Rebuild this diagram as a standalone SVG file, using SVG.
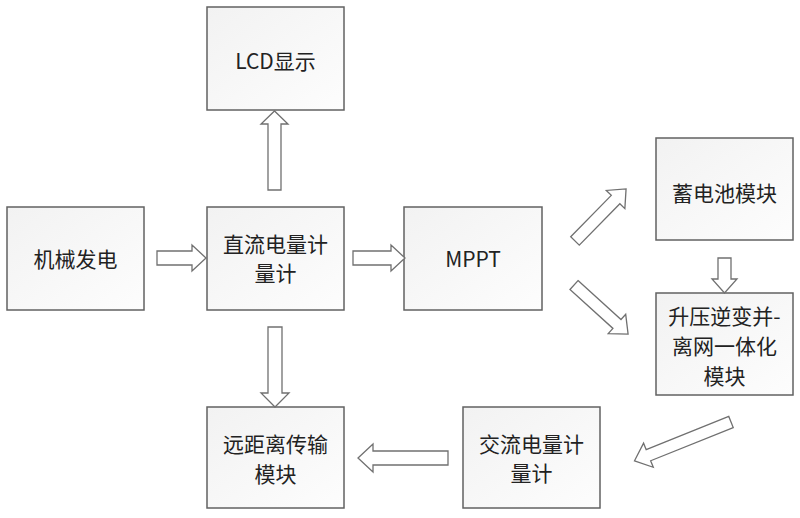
<svg xmlns="http://www.w3.org/2000/svg" width="800" height="518" viewBox="0 0 800 518">
<style>
.box{fill:url(#g);stroke:#626262;stroke-width:1.5}
.t{font-family:"Noto Sans CJK SC","Noto Sans",sans-serif;font-size:21px;fill:#222;text-anchor:middle;dominant-baseline:central}
.ar{fill:#fff;stroke:#707070;stroke-width:1.3;stroke-linejoin:miter}
</style>
<defs>
<linearGradient id="g" x1="0" y1="0" x2="1" y2="1">
<stop offset="0" stop-color="#f2f2f2"/>
<stop offset="1" stop-color="#fdfdfd"/>
</linearGradient>
</defs>
<rect width="800" height="518" fill="#fff"/>
<g id="n1"><rect class="box" x="7" y="207" width="137" height="103"/><text class="t" x="75.5" y="258">机械发电</text></g>
<g id="n2"><rect class="box" x="207" y="207" width="137" height="103"/><text class="t" x="275.5" y="243">直流电量计</text><text class="t" x="275.5" y="272">量计</text></g>
<g id="n3"><rect class="box" x="404" y="207" width="138" height="103"/><text class="t" x="473" y="258">MPPT</text></g>
<g id="n4"><rect class="box" x="207" y="7" width="137" height="103"/><text class="t" x="275.5" y="60">LCD显示</text></g>
<g id="n5"><rect class="box" x="656" y="138" width="137" height="102"/><text class="t" x="724.5" y="192">蓄电池模块</text></g>
<g id="n6"><rect class="box" x="656" y="293" width="137" height="102"/><text class="t" x="724.5" y="315">升压逆变并-</text><text class="t" x="724.5" y="345">离网一体化</text><text class="t" x="724.5" y="375">模块</text></g>
<g id="n7"><rect class="box" x="207" y="407" width="137" height="101"/><text class="t" x="275.5" y="443">远距离传输</text><text class="t" x="275.5" y="473">模块</text></g>
<g id="n8"><rect class="box" x="463" y="407" width="137" height="101"/><text class="t" x="531.5" y="443">交流电量计</text><text class="t" x="531.5" y="472">量计</text></g>
<g id="connectors">
<polygon class="ar" points="157,251 192,251 192,245 206,258 192,271 192,265 157,265"/>
<polygon class="ar" points="353,251 391,251 391,245 405,258 391,271 391,265 353,265"/>
<polygon class="ar" points="268,190 268,124 261,124 274.5,111 288,124 281,124 281,190"/>
<polygon class="ar" points="268,327 282,327 282,393 289,393 275,407 261,393 268,393"/>
<polygon class="ar" points="718,258 731,258 731,279 737,279 724.5,293 712,279 718,279"/>
<polygon class="ar" points="448,451 373,451 373,444 358,458 373,472 373,465 448,465"/>
<polygon class="ar" transform="translate(575,241) rotate(-45.6)" points="0,-6 58,-6 58,-13 73,0 58,13 58,6 0,6"/>
<polygon class="ar" transform="translate(574,285) rotate(42.2)" points="0,-6 58,-6 58,-13 73,0 58,13 58,6 0,6"/>
<polygon class="ar" transform="translate(731,422) rotate(158.1)" points="0,-6 89,-6 89,-13 104,0 89,13 89,6 0,6"/>
</g>
</svg>
